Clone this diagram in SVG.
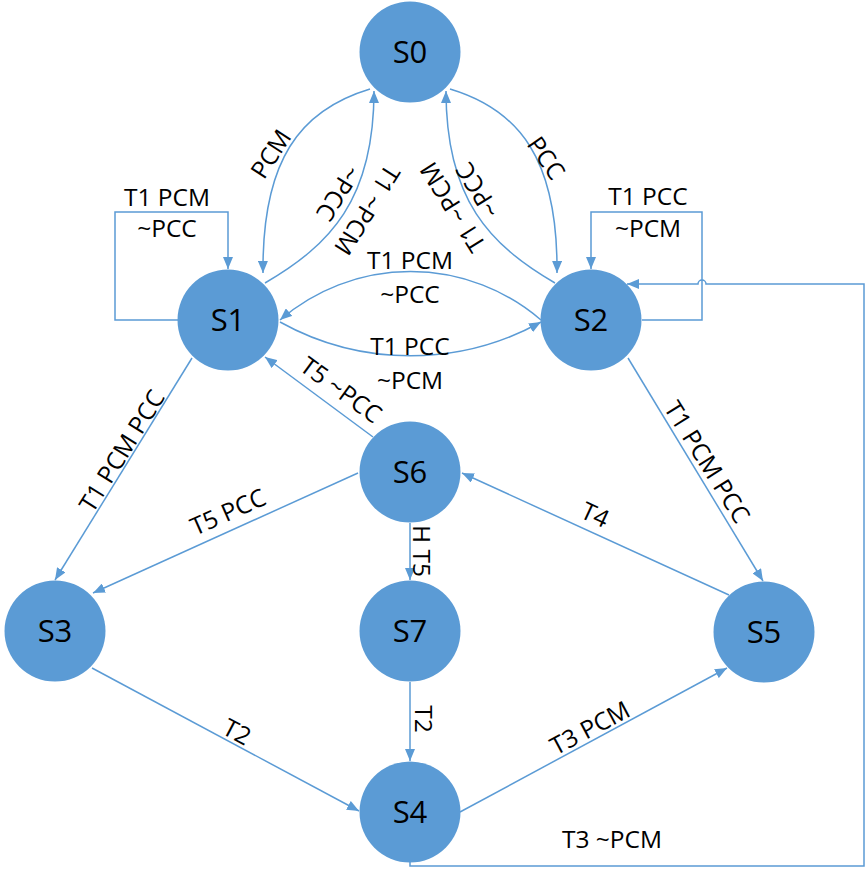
<svg xmlns="http://www.w3.org/2000/svg" width="866" height="870" viewBox="0 0 866 870">
<style>
.node circle{fill:#5b9bd5;}
.node text{font-family:"Open Sans","Liberation Sans",sans-serif;font-size:31px;fill:#000;text-anchor:middle;}
.edge{fill:none;stroke:#5b9bd5;stroke-width:1.5;}
.lbl{font-family:"Open Sans","Liberation Sans",sans-serif;font-size:24.5px;fill:#000;text-anchor:middle;}
</style>
<defs>
<marker id="arr" viewBox="0 0 12 10" refX="12" refY="5" markerWidth="12" markerHeight="10" markerUnits="userSpaceOnUse" orient="auto">
<path d="M0,0 L12,5 L0,10 z" fill="#5b9bd5"/>
</marker>
</defs>
<rect width="866" height="870" fill="#fff"/>
<g id="connectors">
<path class="edge" marker-end="url(#arr)" d="M 370 89 C 300 110, 262 160, 263 273"/>
<path class="edge" marker-end="url(#arr)" d="M 265 283 C 330 245, 374 200, 374 91"/>
<path class="edge" marker-end="url(#arr)" d="M 450 89 C 520 110, 558 160, 557 273"/>
<path class="edge" marker-end="url(#arr)" d="M 555 283 C 490 245, 446 200, 446 91"/>
<path class="edge" marker-end="url(#arr)" d="M 541 320 A 200 200 0 0 0 280 320"/>
<path class="edge" marker-end="url(#arr)" d="M 280 322 A 269 269 0 0 0 541 322"/>
<path class="edge" marker-end="url(#arr)" d="M 178 320 H 115 V 212 H 228 V 269"/>
<path class="edge" marker-end="url(#arr)" d="M 642 320 H 702 V 212 H 591 V 269"/>
<path class="edge" marker-end="url(#arr)" d="M 410 862 V 866 H 864 V 284 H 706 A 4 4 0 0 0 698 284 H 627"/>
<path class="edge" marker-end="url(#arr)" d="M 192 358 L 55 580"/>
<path class="edge" marker-end="url(#arr)" d="M 373 437 L 265 357"/>
<path class="edge" marker-end="url(#arr)" d="M 358 473 L 93 593"/>
<path class="edge" marker-end="url(#arr)" d="M 410 523 L 410 580"/>
<path class="edge" marker-end="url(#arr)" d="M 729 595 L 462 473"/>
<path class="edge" marker-end="url(#arr)" d="M 628 358 L 763 581"/>
<path class="edge" marker-end="url(#arr)" d="M 92 668 L 359 811"/>
<path class="edge" marker-end="url(#arr)" d="M 410 682 L 410 761"/>
<path class="edge" marker-end="url(#arr)" d="M 460 812 L 727 668"/>
</g>
<g id="labels">
<text class="lbl" transform="translate(271,154) rotate(-57)" dy="8.5">PCM</text>
<text class="lbl" transform="translate(546,158) rotate(55)" dy="8.5">PCC</text>
<text class="lbl" transform="translate(367,210) rotate(122)" dy="8.5">T1 ~PCM</text>
<text class="lbl" transform="translate(338,193) rotate(122)" dy="8.5">~PCC</text>
<text class="lbl" transform="translate(453,207) rotate(-122)" dy="8.5">T1 ~PCM</text>
<text class="lbl" transform="translate(478,190) rotate(-122)" dy="8.5">~PCC</text>
<text class="lbl" x="167" y="206">T1 PCM</text>
<text class="lbl" x="167" y="237">~PCC</text>
<text class="lbl" x="648" y="205">T1 PCC</text>
<text class="lbl" x="648" y="237">~PCM</text>
<text class="lbl" x="410" y="269">T1 PCM</text>
<text class="lbl" x="410" y="303">~PCC</text>
<text class="lbl" x="410" y="355">T1 PCC</text>
<text class="lbl" x="410" y="389">~PCM</text>
<text class="lbl" transform="translate(122,451) rotate(-58)" dy="8.5">T1 PCM PCC</text>
<text class="lbl" transform="translate(707,462) rotate(58)" dy="8.5">T1 PCM PCC</text>
<text class="lbl" transform="translate(341,390) rotate(36)" dy="8.5">T5 ~PCC</text>
<text class="lbl" transform="translate(228,512) rotate(-24)" dy="8.5">T5 PCC</text>
<text class="lbl" transform="translate(595,515) rotate(25)" dy="8.5">T4</text>
<text class="lbl" transform="translate(421,551) rotate(90)" dy="8.5">H T5</text>
<text class="lbl" transform="translate(423,719) rotate(90)" dy="8.5">T2</text>
<text class="lbl" transform="translate(237,732) rotate(28)" dy="8.5">T2</text>
<text class="lbl" transform="translate(590,728) rotate(-28)" dy="8.5">T3 PCM</text>
<text class="lbl" x="612" y="848">T3 ~PCM</text>
</g>
<g id="S0" class="node"><circle cx="410" cy="52" r="50.5"/><text x="410" y="63">S0</text></g>
<g id="S1" class="node"><circle cx="228" cy="320" r="50.5"/><text x="228" y="331">S1</text></g>
<g id="S2" class="node"><circle cx="591" cy="320" r="50.5"/><text x="591" y="331">S2</text></g>
<g id="S6" class="node"><circle cx="410" cy="472" r="50.5"/><text x="410" y="483">S6</text></g>
<g id="S3" class="node"><circle cx="55" cy="631" r="50.5"/><text x="55" y="642">S3</text></g>
<g id="S7" class="node"><circle cx="410" cy="631" r="50.5"/><text x="410" y="642">S7</text></g>
<g id="S5" class="node"><circle cx="764" cy="632" r="50.5"/><text x="764" y="643">S5</text></g>
<g id="S4" class="node"><circle cx="410" cy="812" r="50.5"/><text x="410" y="823">S4</text></g>
</svg>
